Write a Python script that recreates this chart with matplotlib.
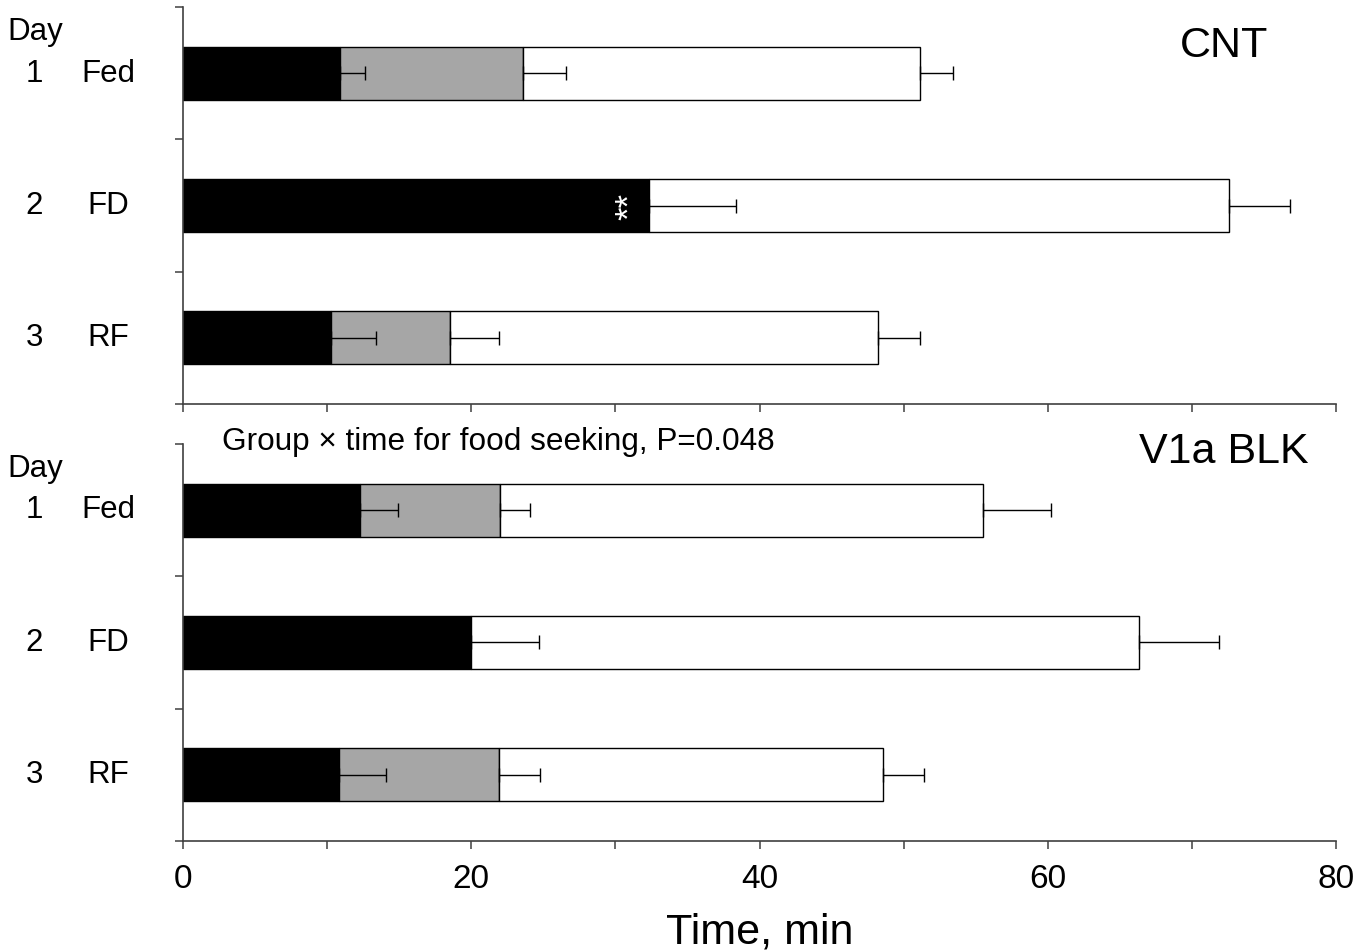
import numpy as np
import matplotlib.pyplot as plt

plt.rcParams['font.family'] = ['Liberation Sans', 'DejaVu Sans']

days = ['1', '2', '3']
conds = ['Fed', 'FD', 'RF']
xticks = [0, 10, 20, 30, 40, 50, 60, 70, 80]
xticklabels = ['0', '', '20', '', '40', '', '60', '', '80']

# segment durations (min): black, gray, white
cnt_black = [10.9, 32.3, 10.3]
cnt_gray = [12.7, 0.0, 8.2]
cnt_white = [27.5, 40.3, 29.7]
cnt_black_err = [1.7, 6.1, 3.1]
cnt_gray_err = [3.0, 0.0, 3.4]
cnt_white_err = [2.3, 4.2, 2.9]

blk_black = [12.3, 20.0, 10.8]
blk_gray = [9.7, 0.0, 11.1]
blk_white = [33.5, 46.3, 26.7]
blk_black_err = [2.6, 4.7, 3.3]
blk_gray_err = [2.1, 0.0, 2.9]
blk_white_err = [4.7, 5.6, 2.8]

fig = plt.figure(figsize=(13.72, 9.53), dpi=100)
ax1 = fig.add_axes([0.1334, 0.575, 0.8404, 0.4166])
ax2 = fig.add_axes([0.1334, 0.1165, 0.8404, 0.4166])

pos = np.arange(3) + 0.5


def panel(ax, black, gray, white, eb, eg, ew, title, title_y):
    black = np.array(black)
    gray = np.array(gray)
    white = np.array(white)
    ax.barh(pos, black, height=0.4, color='black', edgecolor='black', linewidth=1)
    ax.barh(pos, gray, left=black, height=0.4, color='#a6a6a6', edgecolor='black', linewidth=1)
    ax.barh(pos, white, left=black + gray, height=0.4, color='white', edgecolor='black', linewidth=1)
    ends = [black, black + gray, black + gray + white]
    for e, err in zip(ends, [eb, eg, ew]):
        err = np.array(err)
        m = err > 0
        ax.errorbar(e[m], pos[m], xerr=[np.zeros(m.sum()), err[m]], fmt='none',
                    ecolor='black', elinewidth=1, capsize=4.7, capthick=1, zorder=3)
    ax.set_xlim(0, 80)
    ax.set_ylim(3, 0)
    ax.set_yticks([0, 1, 2, 3])
    ax.set_yticklabels([])
    ax.set_xticks(xticks)
    for s in ['top', 'right']:
        ax.spines[s].set_visible(False)
    for s in ['left', 'bottom']:
        ax.spines[s].set_color('#404040')
        ax.spines[s].set_linewidth(1.2)
    ax.tick_params(direction='out', length=5.5, width=1.1, color='#404040')
    tr = ax.get_yaxis_transform()
    ax.text(-0.152, 0.185, 'Day', transform=tr, fontsize=22.5, ha='left', va='center', clip_on=False)
    for p, d, c in zip(pos, days, conds):
        ax.text(-0.1292, p - 0.005, d, transform=tr, fontsize=22.5, ha='center', va='center', clip_on=False)
        ax.text(-0.065, p - 0.005, c, transform=tr, fontsize=22.5, ha='center', va='center', clip_on=False)
    ax.text(72.2, title_y, title, fontsize=31, ha='center', va='center')


panel(ax1, cnt_black, cnt_gray, cnt_white, cnt_black_err, cnt_gray_err, cnt_white_err, 'CNT', 0.285)
panel(ax2, blk_black, blk_gray, blk_white, blk_black_err, blk_gray_err, blk_white_err, 'V1a BLK', 0.05)

ax1.set_xticklabels([])
ax2.set_xticklabels(xticklabels, fontsize=24)
ax2.tick_params(axis='x', pad=10)
ax2.set_xlabel('Time, min', fontsize=31, labelpad=13)

ax1.text(cnt_black[1] - 1.3, pos[1], '**', color='white', fontsize=25, rotation=90,
         ha='center', va='center')
ax2.text(2.7, -0.025, 'Group \u00d7 time for food seeking, P=0.048', fontsize=22.7,
         ha='left', va='center', clip_on=False)

fig.savefig('out.png', dpi=100)
